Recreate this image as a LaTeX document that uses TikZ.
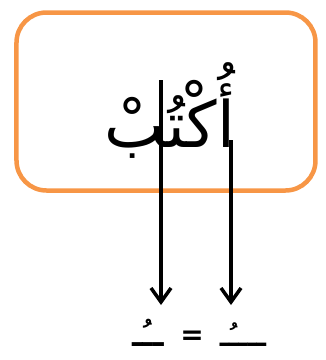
\documentclass[tikz,border=0pt]{standalone}
\usepackage{fontspec}
\newfontfamily\arabicfont[Script=Arabic]{DejaVu Sans}
\newfontfamily\signfont{DejaVu Sans}
\TeXXeTstate=1
\usetikzlibrary{arrows.meta}
\definecolor{boxorange}{RGB}{247,150,70}
\tikzset{
  wordbox/.style={draw=boxorange, line width=4.5pt, rounded corners=30pt, inner sep=0pt},
  pointer/.style={line width=3.5pt, -{Straight Barb[length=14pt,width=20pt]}},
  harakat/.style={font=\arabicfont\bfseries\fontsize{27}{31}\selectfont, inner sep=0pt},
}
\begin{document}
\begin{tikzpicture}[x=1pt,y=-1pt]
\useasboundingbox (0,0) rectangle (326,360);
% box with the word
\node[wordbox, minimum width=299pt, minimum height=178pt] (box) at (166,101.5) {};
\node[font=\arabicfont\fontsize{64}{70}\selectfont, anchor=base, inner sep=0pt] (word) at (170,147) {\beginR أُكْتُبْ\endR};
% the two dammas
\node[harakat, anchor=base, font=\arabicfont\bfseries\fontsize{31}{35}\selectfont] (left) at (148,346) {\beginR ــُـ\endR};
\node[font=\signfont\bfseries\fontsize{28}{32}\selectfont, inner sep=0pt] (eq) at (192,338) {=};
\node[harakat, anchor=base] (right) at (243,346) {\beginR ــــُـ\endR};
\coordinate (top1) at (161,80);
\coordinate (top2) at (231,140);
\coordinate (tip1) at (161,305);
\coordinate (tip2) at (231,305);
\draw[pointer] (top1) -- (tip1);
\draw[pointer] (top2) -- (tip2);
\end{tikzpicture}
\end{document}
